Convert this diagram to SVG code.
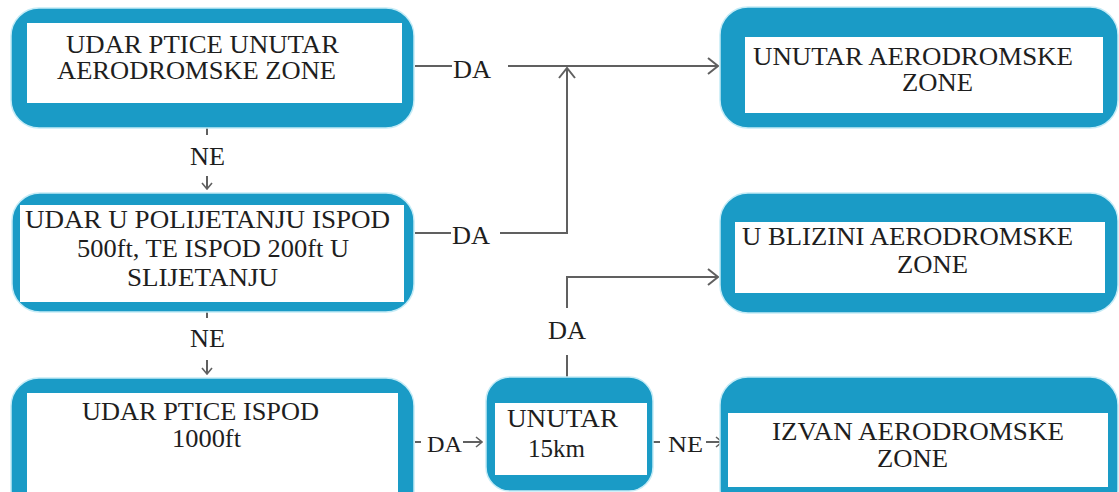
<svg xmlns="http://www.w3.org/2000/svg" width="1119" height="492" viewBox="0 0 1119 492">
<style>
.box{fill:#1a9bc6;stroke:#c4ebf6;stroke-width:1.5}
.in{fill:#ffffff}
.t{font-family:"Liberation Serif","DejaVu Serif","Noto Serif",serif;font-size:26px;fill:#1e1e1e}
.s{font-size:24px}
.c{stroke:#606060;stroke-width:2;fill:none}
</style>
<defs>
<marker id="big" viewBox="0 0 12 18" refX="11" refY="9" markerWidth="12" markerHeight="18" orient="auto" markerUnits="userSpaceOnUse">
<path d="M1,1 L11,9 L1,17" fill="none" stroke="#606060" stroke-width="2"/>
</marker>
<marker id="sm" viewBox="0 0 8 12" refX="7" refY="6" markerWidth="8" markerHeight="12" orient="auto" markerUnits="userSpaceOnUse">
<path d="M1,1 L7,6 L1,11" fill="none" stroke="#606060" stroke-width="1.6"/>
</marker>
</defs>
<rect width="1119" height="492" fill="#ffffff"/>
<g id="connectors">
<path class="c" d="M415,66 H452"/>
<text class="t" x="453" y="78" textLength="38" lengthAdjust="spacingAndGlyphs">DA</text>
<path class="c" d="M508,66 H718" marker-end="url(#big)"/>
<path class="c" d="M415,233 H451"/>
<text class="t" x="452" y="244" textLength="38" lengthAdjust="spacingAndGlyphs">DA</text>
<path class="c" d="M500,233 H567 V68" marker-end="url(#big)"/>
<path class="c" d="M567,377 V355"/>
<text class="t" x="548" y="339" textLength="38" lengthAdjust="spacingAndGlyphs">DA</text>
<path class="c" d="M567,308 V277 H718" marker-end="url(#big)"/>
<path class="c" d="M207,128 V135"/>
<text class="t" x="190" y="165" textLength="35" lengthAdjust="spacingAndGlyphs">NE</text>
<path class="c" d="M207,176 V189" marker-end="url(#sm)"/>
<path class="c" d="M207,312 V318"/>
<text class="t" x="190" y="347" textLength="35" lengthAdjust="spacingAndGlyphs">NE</text>
<path class="c" d="M207,360 V374" marker-end="url(#sm)"/>
<path class="c" d="M415,442 H421"/>
<text class="t s" x="427" y="452" textLength="35" lengthAdjust="spacingAndGlyphs">DA</text>
<path class="c" d="M463,442 H482" marker-end="url(#sm)"/>
<path class="c" d="M653,442 H660"/>
<text class="t s" x="668" y="452" textLength="35" lengthAdjust="spacingAndGlyphs">NE</text>
<path class="c" d="M706,442 H722" marker-end="url(#sm)"/>
</g>

<g id="node-udar-ptice-unutar">
<rect class="box" x="11" y="8" width="403" height="120" rx="28"/>
<rect class="in" x="27" y="23" width="375" height="80"/>
<text class="t" x="66" y="53" textLength="273" lengthAdjust="spacingAndGlyphs">UDAR PTICE UNUTAR</text>
<text class="t" x="57" y="79" textLength="279" lengthAdjust="spacingAndGlyphs">AERODROMSKE ZONE</text>
</g>

<g id="node-udar-polijetanju">
<rect class="box" x="12" y="193" width="402" height="119" rx="28"/>
<rect class="in" x="20" y="205" width="384" height="97"/>
<text class="t" x="25" y="228" textLength="365" lengthAdjust="spacingAndGlyphs">UDAR U POLIJETANJU ISPOD</text>
<text class="t" x="77" y="257" textLength="272" lengthAdjust="spacingAndGlyphs">500ft, TE ISPOD 200ft U</text>
<text class="t" x="127" y="286" textLength="151" lengthAdjust="spacingAndGlyphs">SLIJETANJU</text>
</g>

<g id="node-udar-ispod-1000">
<rect class="box" x="11" y="378" width="403" height="140" rx="28"/>
<rect class="in" x="27" y="393" width="371" height="110"/>
<text class="t" x="82" y="420" textLength="237" lengthAdjust="spacingAndGlyphs">UDAR PTICE ISPOD</text>
<text class="t" x="172" y="447" textLength="69" lengthAdjust="spacingAndGlyphs">1000ft</text>
</g>

<g id="node-unutar-15km">
<rect class="box" x="486" y="377" width="167" height="114" rx="24"/>
<rect class="in" x="495" y="403" width="152" height="72"/>
<text class="t" x="507" y="427" textLength="111" lengthAdjust="spacingAndGlyphs">UNUTAR</text>
<text class="t" x="528" y="457" textLength="57" lengthAdjust="spacingAndGlyphs">15km</text>
</g>

<g id="node-unutar-zone">
<rect class="box" x="720" y="7" width="398" height="121" rx="28"/>
<rect class="in" x="745" y="37" width="358" height="76"/>
<text class="t" x="753" y="65" textLength="320" lengthAdjust="spacingAndGlyphs">UNUTAR AERODROMSKE</text>
<text class="t" x="902" y="91" textLength="71" lengthAdjust="spacingAndGlyphs">ZONE</text>
</g>

<g id="node-blizini-zone">
<rect class="box" x="720" y="193" width="398" height="120" rx="28"/>
<rect class="in" x="735" y="222" width="370" height="71"/>
<text class="t" x="742" y="245" textLength="331" lengthAdjust="spacingAndGlyphs">U BLIZINI AERODROMSKE</text>
<text class="t" x="897" y="273" textLength="71" lengthAdjust="spacingAndGlyphs">ZONE</text>
</g>

<g id="node-izvan-zone">
<rect class="box" x="720" y="377" width="398" height="140" rx="28"/>
<rect class="in" x="728" y="413" width="380" height="74"/>
<text class="t" x="772" y="440" textLength="292" lengthAdjust="spacingAndGlyphs">IZVAN AERODROMSKE</text>
<text class="t" x="877" y="467" textLength="71" lengthAdjust="spacingAndGlyphs">ZONE</text>
</g>
</svg>
